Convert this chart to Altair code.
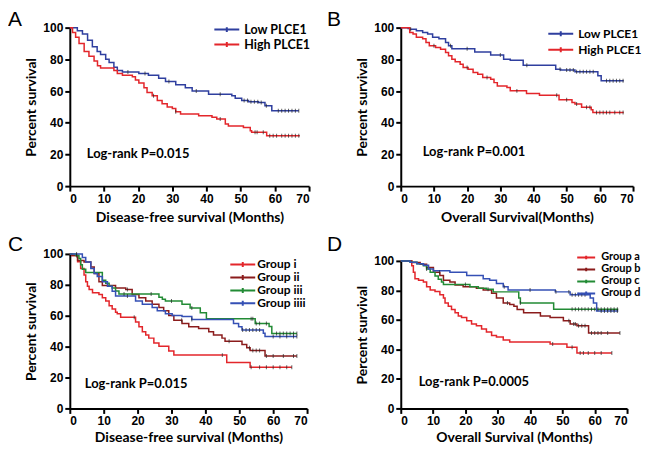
import altair as alt
import pandas as pd

# ---------------- data ----------------
AB_groups = ["Low PLCE1", "High PLCE1"]
AB_colors = ["#2f3f9f", "#e3262b"]
CD_colors = ["#e3262b", "#8b1c1c", "#228b35", "#3550b5"]
C_groups = ["Group i", "Group ii", "Group iii", "Group iiii"]
D_groups = ["Group a", "Group b", "Group c", "Group d"]

# Panel A (disease-free survival by PLCE1)
A_low_t = [0, 2.2, 3.7, 5.2, 6.6, 8.0, 9.0, 10.5, 11.5, 12.9, 13.9, 15.4, 20.2, 23, 26, 28, 31, 33.8, 35.8, 40.6, 47.4, 48.4, 50.3, 52.3, 55.2, 57.1, 59.1]
A_low_s = [100, 98, 96, 92, 88, 85, 83, 80, 78, 75, 73, 72, 71, 70, 68, 66, 64, 62, 60, 58, 57, 55.5, 54, 53.3, 52.8, 50.7, 47.5]
A_high_t = [0, 0.8, 1.7, 2.7, 4.2, 5.6, 7.1, 8.1, 9.0, 12.9, 13.9, 15.4, 18.3, 19.2, 20.2, 21.7, 22.6, 24.1, 25.6, 27, 28.5, 30, 31, 32.4, 37.7, 41.6, 43, 45.5, 46.4, 50.8, 52.8, 53.2, 57.6]
A_high_s = [100, 97, 94, 90, 85, 82, 79, 76, 74.5, 73, 71, 70, 69, 67, 65, 62, 59, 57, 54, 52, 50, 49, 47, 45.5, 44.4, 43.4, 42.3, 39.2, 38, 37, 35, 34, 31.8]
A_ends = [67, 67.3]
A_low_c = [17, 22, 29, 37, 44, 51, 52, 53, 54, 55, 56, 57.5, 61, 62, 63, 64, 65, 66, 67]
A_high_c = [24.5, 31, 44, 54.2, 54.8, 56.6, 58.5, 59.5, 60.5, 62, 63, 64, 65, 66, 67]

# Panel B (overall survival by PLCE1)
B_low_t = [0, 2.2, 2.7, 4.7, 6.6, 8.1, 9.6, 11.5, 13.5, 14.4, 15.4, 22.3, 27.1, 31, 33, 36.9, 46.7, 48.2, 52.5, 59.4, 60.4]
B_low_s = [100, 99.5, 99, 98, 97, 96, 94, 93, 90.6, 88.5, 86.6, 84.7, 82.8, 80, 79.4, 76.3, 73.8, 73.2, 72.1, 69.6, 66.5]
B_high_t = [0, 2.7, 3.7, 4.7, 6.6, 7.6, 8.6, 10.5, 12, 13.5, 14.4, 15.4, 16.4, 17.9, 18.8, 20.3, 21.8, 23.2, 24.7, 27.1, 28.1, 29.1, 32, 33, 37.9, 41.8, 47.7, 51.6, 52.5, 54.5, 57.4, 57.9]
B_high_s = [100, 97, 96, 94, 93, 90.6, 88.5, 87.4, 86.4, 84.3, 82.2, 80, 78.4, 76.9, 74.8, 73.8, 71.7, 70.6, 68.5, 67.4, 65.3, 63.2, 62.2, 60.1, 58.5, 57.4, 54.5, 52.8, 51.8, 49.7, 48.2, 46.5]
B_ends = [67.2, 67.2]
B_low_c = [3, 15, 20, 30, 38, 48, 50, 51, 52, 53, 54, 55, 56, 57, 58, 62, 63, 64, 65, 66, 67]
B_high_c = [10, 20, 26, 35, 47, 50, 53, 56, 57, 59, 60, 61, 62, 63, 64.5, 66, 67]

# Panel C (disease-free survival by group)
C_i_t = [0, 0.6, 2.3, 3.2, 4.2, 4.7, 5.2, 5.7, 6.7, 8.6, 9.6, 10.6, 11.6, 12.5, 13.5, 14, 15, 19.4, 20.4, 21.4, 22.4, 23.3, 24.8, 26.3, 29.2, 30.7, 46.3, 53.2]
C_i_s = [100, 99, 95, 90.6, 86.4, 82, 79, 77, 74.8, 73.8, 71.7, 69.6, 66.5, 64.4, 62.2, 61.2, 59, 56, 52.8, 49.7, 47.6, 45.5, 42.3, 40.3, 37.1, 34.5, 29.7, 26.6]
C_ii_t = [0, 0.6, 2.3, 4.2, 6.2, 7.2, 8.6, 9.6, 13.5, 16.5, 18.4, 20.4, 22.4, 24.3, 26.3, 27.7, 29.2, 30.7, 33.1, 35.1, 38, 41, 42.4, 44.9, 45.8, 50.8, 52.2, 53.2, 57.6]
C_ii_s = [100, 99, 95.8, 94.7, 91.6, 87.4, 82, 79.5, 78, 76.9, 73.8, 71.7, 69.6, 67.5, 65.3, 63.2, 60.1, 57, 54.9, 52.8, 51.8, 49.7, 47.6, 45.5, 43.4, 41.3, 39.2, 37.5, 34]
C_iii_t = [0, 1.8, 2.7, 3.2, 3.7, 4.7, 9.6, 10.6, 11.6, 12.5, 13.5, 14.5, 26.3, 27.3, 28.2, 33.1, 35.5, 38.5, 40.3, 54.7, 58.8, 59.6]
C_iii_s = [100, 99, 97, 93, 90, 88, 83, 81, 79, 78, 76, 74, 72, 70.6, 69.6, 67.5, 65, 62, 58, 55, 53, 48.5]
C_iiii_t = [0, 3.7, 4.7, 6.2, 7.2, 8.1, 9.6, 11.1, 12.5, 13.5, 19.4, 21.4, 24.3, 25.8, 28.2, 30.2, 33.1, 36, 48.3, 49.8, 50.8, 57.1, 57.6]
C_iiii_s = [100, 97.6, 94.7, 90.6, 87.4, 85.4, 82, 79, 75.9, 72.7, 69.6, 67.5, 65.3, 63.2, 61.2, 60.1, 59.5, 57.5, 55, 52.8, 50.7, 48.6, 46.5]
C_ends = [65.5, 67, 67, 67]
C_i_c = [19, 45, 53.5, 56, 58, 60, 62, 64, 65.5]
C_ii_c = [17, 33, 47, 53, 54, 55, 56, 58, 60, 63, 66, 67]
C_iii_c = [2, 16, 24, 30, 36, 53.5, 54, 55, 56, 58, 61, 62, 63, 64, 65, 66, 67]
C_iiii_c = [2, 17, 36, 51, 52, 53, 54, 55, 56, 60, 62, 64, 66, 67]

# Panel D (overall survival by group)
D_a_t = [0, 3.4, 3.9, 4.4, 5.5, 7, 8, 9.1, 10.6, 12.1, 13.2, 13.7, 14.7, 15.7, 16.8, 17.8, 18.8, 20.4, 21.9, 23.4, 25, 26.5, 28.1, 29.6, 31.7, 33.7, 46.2, 51.4, 54.5]
D_a_s = [100, 96.7, 92.3, 87.9, 86.9, 85.7, 82.5, 80.3, 79.2, 77, 74.8, 71.5, 69.3, 67.1, 64.9, 62.7, 61.6, 59.4, 57.3, 56.1, 53.9, 51.8, 49.5, 48.4, 46.3, 45.1, 43.6, 41.4, 37.5]
D_b_t = [0, 3.4, 6, 8, 10.1, 12.1, 13.2, 15.2, 16.8, 19.3, 23.4, 25.5, 28.1, 29.6, 31.7, 33.7, 35, 36, 38, 43.2, 46.2, 50.3, 52.4, 54.5, 58.1]
D_b_s = [100, 98.9, 97.8, 95.6, 92.3, 90.1, 86.8, 85.7, 83.6, 82.5, 81.4, 80.3, 78.1, 74.8, 71.5, 70.4, 69.3, 67.1, 64.9, 62.7, 61.6, 59.4, 57.3, 56.1, 51.1]
D_c_t = [0, 2.9, 5, 7, 8, 9.1, 10.6, 11.6, 12.6, 13.2, 21.4, 24, 26.5, 28.6, 36.5, 37, 47.3]
D_c_s = [100, 99, 98, 96.7, 94.5, 92.3, 89.7, 87.5, 85.7, 84, 82.5, 81.4, 80.7, 79, 74.8, 71.5, 67.3]
D_d_t = [0, 2.9, 5, 7, 8.6, 10.1, 15.2, 20.4, 25.5, 27.5, 29.6, 31.7, 33.2, 47.8, 52.4, 58.6, 59.6, 60.6]
D_d_s = [100, 99, 98, 97, 94.5, 93.4, 92.3, 90.1, 87.9, 86.8, 84.6, 82.5, 80.3, 79, 77, 74.8, 71.5, 66]
D_ends = [65.3, 67.8, 67.3, 67.3]
D_a_c = [47, 53, 55.5, 56.5, 58, 60, 62, 65.3]
D_b_c = [12, 33, 52, 53.5, 54, 55, 56, 57, 59, 60, 61, 62, 64, 67.8]
D_c_c = [8, 20, 27, 37, 53, 54, 55, 56, 57, 58, 59, 60, 61, 62, 63, 64, 65, 66, 67]
D_d_c = [32, 40, 48, 52, 53, 54, 55, 56, 57, 62, 63, 64, 65, 66, 67]


def step_value(ts, ss, x):
    v = ss[0]
    for t, s in zip(ts, ss):
        if t <= x:
            v = s
    return v


def build(groups, times, survs, ends, censors):
    rows, crow = [], []
    for g, ts, ss, e, cs in zip(groups, times, survs, ends, censors):
        for t, s in zip(ts, ss):
            rows.append({"g": g, "t": t, "s": s})
        rows.append({"g": g, "t": e, "s": ss[-1]})
        for c in cs:
            crow.append({"g": g, "t": c, "s": step_value(ts, ss, c)})
    return pd.DataFrame(rows), pd.DataFrame(crow)


TITLE_FONT = "Lato"
SYM = "M-1,0H1M0,-0.2V0.2"


def panel(letter, groups, colors, times, survs, ends, censors, xtitle, ptext,
          w, h, yrange, lx, ly, symsize, lfs, clip, loff, letx, lety, px, py, xtp):
    lines_df, cens_df = build(groups, times, survs, ends, censors)
    x = alt.X("t:Q", scale=alt.Scale(domain=[0, 70], nice=False, range=[0, w]),
              axis=alt.Axis(values=list(range(0, 71, 10)), title=xtitle,
                            labelOverlap=False, tickCount=8, titlePadding=xtp))
    y = alt.Y("s:Q", scale=alt.Scale(domain=[0, 100], nice=False, range=yrange),
              axis=alt.Axis(values=list(range(0, 101, 20)), title="Percent survival",
                            labelOverlap=False, tickCount=6))
    color = alt.Color("g:N", scale=alt.Scale(domain=groups, range=colors),
                      legend=alt.Legend(orient="none", legendX=lx, legendY=ly, title=None,
                                        symbolType=SYM, symbolSize=symsize, symbolStrokeWidth=2,
                                        labelFont=TITLE_FONT, labelFontSize=lfs,
                                        labelFontWeight="bold", labelColor="black",
                                        clipHeight=clip, rowPadding=0, labelOffset=loff,
                                        padding=0))
    lines = alt.Chart(lines_df).mark_line(interpolate="step-after", strokeWidth=1.5).encode(
        x=x, y=y, color=color)
    ticks = alt.Chart(cens_df).mark_tick(orient="vertical", size=4, thickness=1,
                                         color="#222222", opacity=0.7).encode(x=x, y=y)
    lab = alt.Chart(pd.DataFrame({"txt": [letter]})).mark_text(
        align="left", baseline="top", font="Liberation Sans", fontSize=21,
        color="black").encode(text="txt:N", x=alt.value(letx), y=alt.value(lety))
    pv = alt.Chart(pd.DataFrame({"txt": [ptext]})).mark_text(
        align="left", baseline="middle", font=TITLE_FONT, fontSize=13, fontWeight="bold",
        color="black").encode(text="txt:N", x=alt.value(px), y=alt.value(py))
    return alt.layer(lines, ticks, lab, pv).properties(width=w, height=h)


pA = panel("A", AB_groups, AB_colors, [A_low_t, A_high_t], [A_low_s, A_high_s], A_ends,
           [A_low_c, A_high_c], "Disease-free survival (Months)", "Log-rank P=0.015",
           240, 159, [159, 0], 144, -5.5, 625, 12.5, 15, 4, -62, -18.5, 17, 127, 6)
pB = panel("B", AB_groups, AB_colors, [B_low_t, B_high_t], [B_low_s, B_high_s], B_ends,
           [B_low_c, B_high_c], "Overall Survival(Months)", "Log-rank P=0.001",
           233, 159, [159, 0], 147, -1.5, 625, 12, 15.5, 4, -74, -18.5, 22, 125, 6)
pC = panel("C", C_groups, CD_colors, [C_i_t, C_ii_t, C_iii_t, C_iiii_t],
           [C_i_s, C_ii_s, C_iii_s, C_iiii_s], C_ends, [C_i_c, C_ii_c, C_iii_c, C_iiii_c],
           "Disease-free survival (Months)", "Log-rank P=0.015",
           238, 155, [155, 0], 160, 5, 625, 12, 11.2, 1, -62, -20, 15, 131, 4)
pD = panel("D", D_groups, CD_colors, [D_a_t, D_b_t, D_c_t, D_d_t],
           [D_a_s, D_b_s, D_c_s, D_d_s], D_ends, [D_a_c, D_b_c, D_c_c, D_d_c],
           "Overall Survival (Months)", "Log-rank P=0.0005",
           227, 155, [155, 7], 176, -1.5, 324, 11, 10.2, 5, -74, -20, 18, 129, 4)

chart = alt.concat(pA, pB, pC, pD, columns=2, spacing={"row": 68, "column": 92},
                   bounds="flush").resolve_scale(
    color="independent"
).properties(
    padding={"left": 0, "top": 0, "right": 0, "bottom": 0}
).configure_view(stroke=None).configure_axis(
    grid=False, domainColor="black", domainWidth=2, tickColor="black", tickWidth=2,
    tickSize=5, labelFont="Liberation Sans", labelFontWeight="bold", labelFontSize=12,
    labelColor="black", labelPadding=2, labelOverlap=False, titleFont=TITLE_FONT,
    titleFontSize=14, titleFontWeight="bold", titleColor="black", titlePadding=4
)

chart.save("out.html", embed_options={"renderer": "svg", "actions": False})
